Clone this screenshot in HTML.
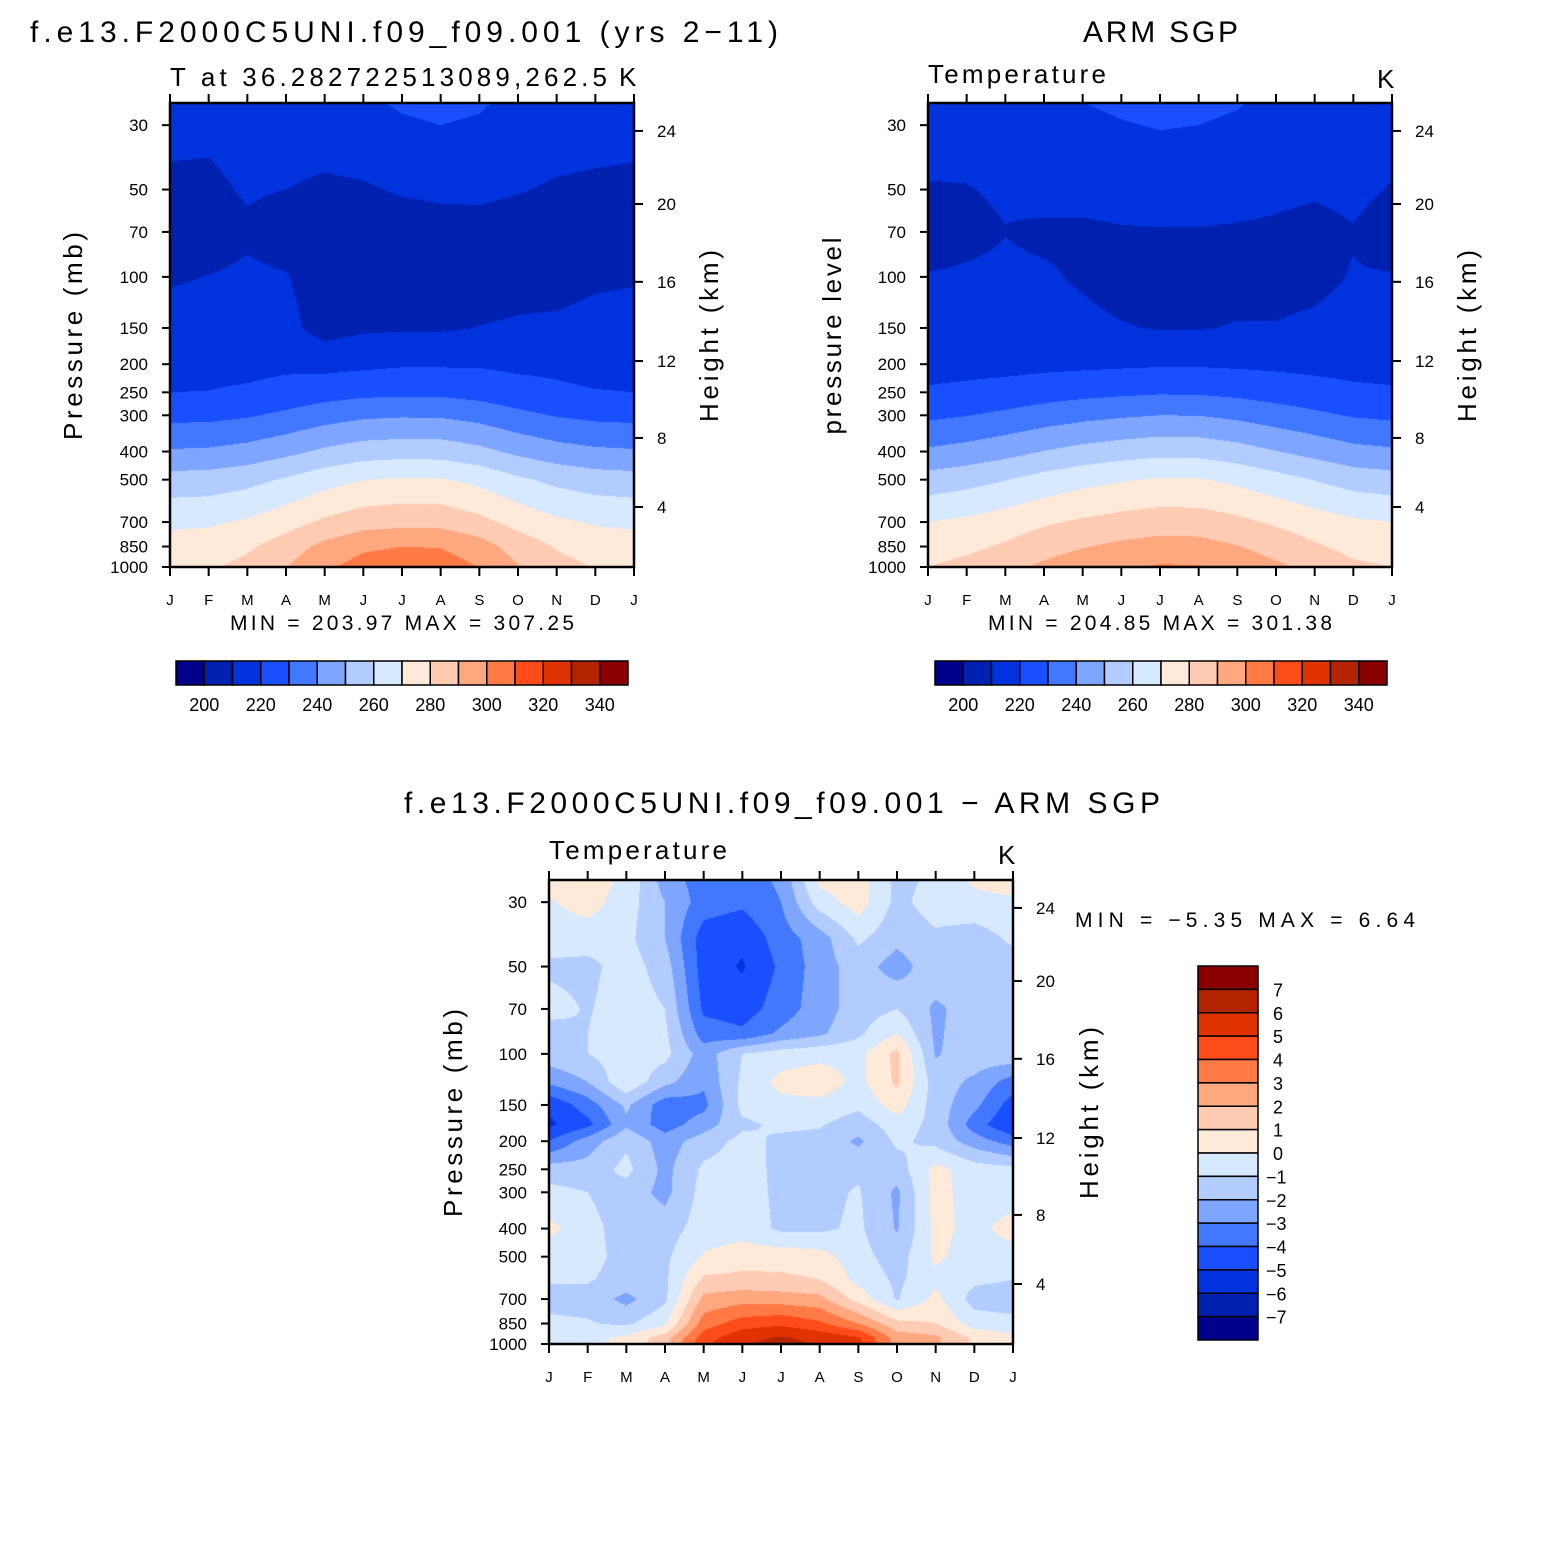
<!DOCTYPE html>
<html><head><meta charset="utf-8"><style>
html,body{margin:0;padding:0;background:#fff;}
#wrap{position:relative;width:1563px;height:1563px;overflow:hidden;background:#fff;}
canvas{position:absolute;}
svg{position:absolute;left:0;top:0;}
text{font-family:"Liberation Sans",sans-serif;fill:#000;}
</style></head><body>
<div id="wrap">
<canvas id="c1" width="464" height="465" style="left:170px;top:103px"></canvas>
<canvas id="c2" width="464" height="465" style="left:928px;top:103px"></canvas>
<canvas id="c3" width="464" height="464" style="left:549px;top:880px"></canvas>
<svg id="s" width="1563" height="1563" xmlns="http://www.w3.org/2000/svg">
<text x="30" y="42" font-size="30" textLength="748">f.e13.F2000C5UNI.f09_f09.001 (yrs 2−11)</text>
<text x="1083" y="42" font-size="30" textLength="155">ARM SGP</text>
<text x="170" y="86" font-size="26" textLength="437">T at 36.282722513089,262.5</text>
<text x="619" y="86" font-size="26">K</text>
<text x="928" y="83" font-size="26" textLength="178">Temperature</text>
<text x="1377" y="88" font-size="26">K</text>
<text x="404" y="813" font-size="30" textLength="756">f.e13.F2000C5UNI.f09_f09.001 − ARM SGP</text>
<text x="549" y="859" font-size="26" textLength="178">Temperature</text>
<text x="998" y="864" font-size="26">K</text>
<text transform="translate(82,336) rotate(-90)" text-anchor="middle" font-size="26" textLength="208">Pressure (mb)</text>
<text transform="translate(841,336) rotate(-90)" text-anchor="middle" font-size="26" textLength="197">pressure level</text>
<text transform="translate(462,1113) rotate(-90)" text-anchor="middle" font-size="26" textLength="208">Pressure (mb)</text>
<text transform="translate(718,336) rotate(-90)" text-anchor="middle" font-size="26" textLength="172">Height (km)</text>
<text transform="translate(1476,336) rotate(-90)" text-anchor="middle" font-size="26" textLength="172">Height (km)</text>
<text transform="translate(1098,1113) rotate(-90)" text-anchor="middle" font-size="26" textLength="172">Height (km)</text>
<text x="230" y="630" font-size="21" textLength="344">MIN = 203.97  MAX = 307.25</text>
<text x="988" y="630" font-size="21" textLength="344">MIN = 204.85  MAX = 301.38</text>
<text x="1075" y="927" font-size="21" textLength="340">MIN =   −5.35  MAX =    6.64</text>
</svg>
</div>
<script>
// ---- data ----
const months = ["J","F","M","A","M","J","J","A","S","O","N","D","J"];
const pressureTicks = [30,50,70,100,150,200,250,300,400,500,700,850,1000];
const heightTicksKm = [24,20,16,12,8,4];
const heightTickPressure = [31.4,56.1,104,195,359,621];
const tempLevels = [1000,850,700,500,400,300,250,200,150,100,70,50,30,25];
const modelT = [
[278,278.8,282.8,289.8,298.2,304,306,305.4,299.8,290.6,283.6,279.4,278],
[274,274.8,278.4,284.9,292.7,298.2,300,299.5,294.3,285.7,279.2,275.3,274],
[268,268.6,271.2,276,281.7,285.7,287,286.6,282.8,276.6,271.8,269,268],
[254,254.5,256.9,261.1,266.2,269.8,271,270.7,267.3,261.7,257.4,254.9,254],
[241,241.5,243.6,247.3,251.8,255,256,255.7,252.7,247.8,244,241.8,241],
[227,227.4,229,232,235.6,238.2,239,238.8,236.4,232.4,229.4,227.6,227],
[220,220.2,221.4,223.4,225.8,227.4,228,227.8,226.2,223.6,221.6,220.4,220],
[217,217,217,218,217,218,219,219,219,218,218,217,217],
[214,213,213,213,206,208.5,209,209,210.2,211,211.5,213,214],
[209,210.2,211.5,210.5,205,205,205,205,206,207,207,208.5,209],
[206,206,208.5,206,205,205,205,206,206.5,206,206,206,206],
[208.5,208,211,210,208.5,209,211,212,212,210.5,209,208.5,208.5],
[212,212,214,214,214,216,219,220,219,216,214,213,212],
[213,214,215,215,216,219,221,222,221,218,215,214,213]];
const armT = [
[280,283,287,292,296,299,301,300.5,297,292,287,282,280],
[275,277.7,281.3,285.8,289.4,292.1,294,293.6,290.4,285.8,281.3,276.9,275],
[270,272.1,275,278.6,281.4,283.5,285,284.7,282.2,278.6,275,271.5,270],
[254,256.4,259.6,263.7,266.9,269.3,271,270.7,267.8,263.7,259.6,255.7,254],
[241.5,243.7,246.6,250.3,253.3,255.5,257,256.7,254.1,250.3,246.6,243,241.5],
[228,229.7,232,234.8,237.1,238.8,240,239.8,237.7,234.8,232,229.2,228],
[221,222.1,223.6,225.6,227.1,228.2,229,228.8,227.5,225.6,223.6,221.8,221],
[217,217,217,217.5,218,218.5,219,219,218.5,218,217.5,217,217],
[213.5,213,213,213,212,210.5,209.5,209.5,210.5,210.5,211.5,213,213.5],
[210.5,211,211.5,211,209,207,207,207,207,207,208,210.5,210.5],
[206,208,209.8,208.5,208.5,209.3,209.5,209.5,209,208.5,207.5,209.5,206],
[209.5,209.7,211,213,213,213.5,214,214,213.5,212,211,212,209.5],
[213,213,214,214,218,219.5,220.5,220,219,217,215,214,213],
[214,214,215,216,220,221.5,222,221.5,220.5,218.5,216,215,214]];
const diffLevels = [1000,950,850,700,600,500,400,300,250,200,175,150,125,100,85,70,50,40,30,25];
const diffT = [
[-0.5,-0.2,0.3,1.7,4.8,5.9,6.3,5.9,5.3,2.6,2.2,0.8,0.2],
[-0.5,-0.3,0.2,1.5,4.5,5.7,6.1,5.7,5.1,2.5,2.2,0.8,0.2],
[-0.8,-0.9,-1.2,-0.2,3.5,4.5,4.8,4.2,3.0,1.3,1.0,-0.5,-0.7],
[-1.3,-1.4,-2.3,-1.2,2.3,2.6,2.5,2.3,0.6,-1.1,0.3,-1.4,-1.5],
[-0.9,-0.9,-1.4,-1.2,1.2,1.3,1.2,1.0,-0.3,-1.2,-0.3,-0.8,-1.0],
[-0.6,-0.7,-1.3,-1.2,0.1,0.5,0.6,0.4,-0.6,-1.5,0.2,-0.5,-0.4],
[0.3,-0.7,-1.4,-1.5,-0.5,-0.4,-1.2,-1.2,-0.8,-2.1,0.3,-0.3,0.4],
[-0.7,-1.0,-1.5,-2.3,-0.6,-0.4,-1.3,-1.3,-0.9,-2.2,0.4,-0.5,-0.5],
[-1.5,-1.6,-0.7,-2.3,-0.8,-0.5,-1.3,-1.4,-1.2,-1.5,0.3,-0.5,-0.7],
[-4.0,-2.5,-1.2,-2.5,-1.5,-0.7,-1.2,-1.3,-2.2,-0.8,-1.3,-2.5,-3.5],
[-5.2,-4.3,-2.2,-3.5,-2.5,-1.2,-0.8,-0.9,-1.5,-0.5,-1.3,-3.5,-5.0],
[-4.8,-3.5,-1.8,-3.6,-3.3,-0.7,-0.3,-0.3,-0.8,0.5,-1.5,-2.7,-4.5],
[-2.8,-2.0,-0.2,-1.7,-2.8,-0.8,0.3,0.6,-0.3,1.2,-1.5,-2.2,-3.5],
[-1.4,-1.0,-0.4,-0.7,-2.5,-1.0,-0.5,-0.3,-0.3,1.3,-2.1,-1.4,-1.2],
[-1.5,-1.0,-0.3,-0.8,-3.5,-3.8,-2.8,-2.2,-1.2,0.0,-2.2,-1.3,-1.2],
[-0.6,-1.1,-0.4,-1.0,-4.2,-4.5,-3.5,-2.5,-1.5,-1.0,-2.2,-1.5,-1.0],
[-1.2,-1.3,-0.5,-1.5,-4.5,-5.1,-3.8,-2.5,-1.5,-2.5,-1.3,-1.5,-1.5],
[-0.5,-0.5,-0.7,-2.0,-4.5,-4.8,-3.5,-2.5,-0.8,-1.7,-1.2,-1.5,-0.8],
[-0.1,0.4,-0.5,-2.0,-3.5,-3.8,-3.0,-0.5,0.5,-1.3,-0.5,-0.3,-0.2],
[0.5,0.5,-0.2,-2.5,-3.5,-3.5,-2.8,0.3,0.5,-1.3,-0.8,0.2,0.5]];
const tempBounds = [200,210,220,230,240,250,260,270,280,290,300,310,320,330,340];
const tempBarLabels = [200,220,240,260,280,300,320,340];
const diffBounds = [-7,-6,-5,-4,-3,-2,-1,0,1,2,3,4,5,6,7];
const palette = ["#00008a","#0020b0","#0033dd","#1a4fff","#4178ff","#7fa6ff","#b3ccff","#d7e9ff","#ffead9","#ffcbb3","#ffa880","#ff7a45","#ff4c1a","#e03300","#b52400","#8a0000"];

// ---- axes ----
const W = 464, H = 464, K = 126;
function yOfP(p){ return H - K*Math.log(1000/p); }
function xOfM(m){ return m*W/12; }
function hex(c){ return [parseInt(c.slice(1,3),16),parseInt(c.slice(3,5),16),parseInt(c.slice(5,7),16)]; }
const rgb = palette.map(hex);

function paint(id, levels, data, bounds){
  const cv = document.getElementById(id), ctx = cv.getContext('2d');
  const w = cv.width, h = cv.height;
  const img = ctx.createImageData(w,h);
  const lnL = levels.map(p=>Math.log(p));
  for(let py=0; py<h; py++){
    const lnp = Math.log(1000) - (H - (py+0.5))/K;
    let k = 0;
    while(k < levels.length-2 && lnL[k+1] > lnp) k++;
    let t = (lnL[k]-lnp)/(lnL[k]-lnL[k+1]);
    t = Math.max(0, Math.min(1, t));
    for(let px=0; px<w; px++){
      const fm = (px+0.5)/W*12;
      let i = Math.min(11, Math.floor(fm)); const u = fm - i;
      const a = data[k][i]*(1-u)+data[k][i+1]*u;
      const b = data[k+1][i]*(1-u)+data[k+1][i+1]*u;
      const v = a*(1-t)+b*t;
      let ci = 0; while(ci < bounds.length && v >= bounds[ci]) ci++;
      const c = rgb[ci], o = (py*w+px)*4;
      img.data[o]=c[0]; img.data[o+1]=c[1]; img.data[o+2]=c[2]; img.data[o+3]=255;
    }
  }
  ctx.putImageData(img,0,0);
}
paint('c1', tempLevels, modelT, tempBounds);
paint('c2', tempLevels, armT, tempBounds);
paint('c3', diffLevels, diffT, diffBounds);

const svg = document.getElementById('s');
const NS = "http://www.w3.org/2000/svg";
function mk(tag, attrs){ const e = document.createElementNS(NS, tag); for(const k in attrs) e.setAttribute(k, attrs[k]); svg.appendChild(e); return e; }

function axes(ox, oy, pfx){
  const frame = mk('rect',{x:ox,y:oy,width:W,height:H,fill:'none',stroke:'#000','stroke-width':2.5});
  
  
  pressureTicks.forEach(p=>{
    const y = oy + yOfP(p);
    const tk = mk('line',{x1:ox-8,x2:ox,y1:y,y2:y,stroke:'#000','stroke-width':2});
    
    
    const tx = mk('text',{x:ox-22,y:y+6,'font-size':17,'text-anchor':'end'});
    tx.textContent = p;
    
    
  });
  heightTicksKm.forEach((z,j)=>{
    const y = oy + yOfP(heightTickPressure[j]);
    const tk = mk('line',{x1:ox+W,x2:ox+W+9,y1:y,y2:y,stroke:'#000','stroke-width':2});
    
    
    const tx = mk('text',{x:ox+W+23,y:y+6,'font-size':17});
    tx.textContent = z;
    
    
  });
  months.forEach((m,i)=>{
    const x = ox + xOfM(i);
    const t1 = mk('line',{x1:x,x2:x,y1:oy-9,y2:oy,stroke:'#000','stroke-width':2});
    
    
    const t2 = mk('line',{x1:x,x2:x,y1:oy+H,y2:oy+H+9,stroke:'#000','stroke-width':2});
    
    
    const tx = mk('text',{x:x,y:oy+H+38,'font-size':15,'text-anchor':'middle'});
    tx.textContent = m;
    
    
  });
}
axes(170,103,'model');
axes(928,103,'arm');
axes(549,880,'diff');

function hbar(x0, pfx){
  const bw = 452/16;
  palette.forEach((c,i)=>{
    const r = mk('rect',{x:x0+i*bw,y:661,width:bw,height:24,fill:c,stroke:'#000','stroke-width':1.5});
    
    
  });
  tempBarLabels.forEach(v=>{
    const i = tempBounds.indexOf(v)+1;
    const tx = mk('text',{x:x0+i*bw,y:711,'font-size':18,'text-anchor':'middle'});
    tx.textContent = v;
    
    
  });
}
hbar(176,'model');
hbar(935,'arm');

(function(){
  const bh = 374/16, y0 = 966;
  for(let i=0;i<16;i++){
    const r = mk('rect',{x:1198,y:y0+i*bh,width:60,height:bh,fill:palette[15-i],stroke:'#000','stroke-width':1.5});
    
    
  }
  diffBounds.slice().reverse().forEach((v,i)=>{
    const tx = mk('text',{x:v<0?1266:1273,y:y0+(i+1)*bh+7,'font-size':18});
    tx.textContent = v<0 ? '−'+Math.abs(v) : String(v);
    
    
  });
})();
</script>
</body></html>
